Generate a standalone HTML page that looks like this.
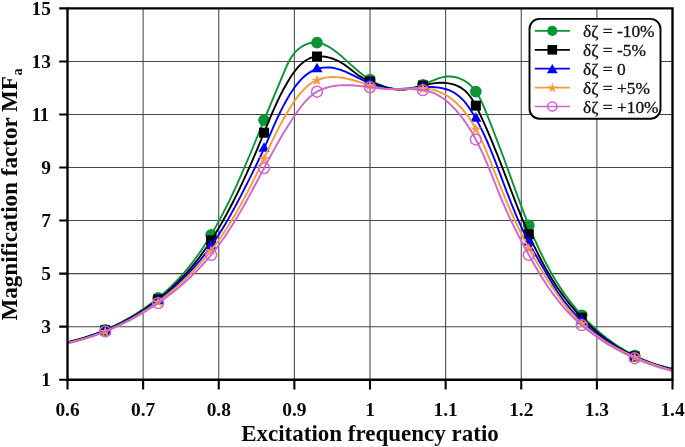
<!DOCTYPE html>
<html><head><meta charset="utf-8"><title>Magnification factor</title>
<style>html,body{margin:0;padding:0;background:#fff;}svg{display:block;}text{font-family:"Liberation Serif",serif;}.tk{font-weight:bold;font-size:19.4px;fill:#0a0a0a;}.ax{font-weight:bold;font-size:23px;fill:#0a0a0a;}.lg{font-size:17.4px;fill:#111;stroke:#111;stroke-width:0.3px;}</style></head><body>
<svg width="685" height="447" viewBox="0 0 685 447">
<rect x="0" y="0" width="685" height="447" fill="#fff"/>
<path d="M143.12 8.40 V379.70 M218.75 8.40 V379.70 M294.38 8.40 V379.70 M370.00 8.40 V379.70 M445.63 8.40 V379.70 M521.25 8.40 V379.70 M596.88 8.40 V379.70 M67.50 326.66 H672.50 M67.50 273.61 H672.50 M67.50 220.57 H672.50 M67.50 167.53 H672.50 M67.50 114.49 H672.50 M67.50 61.44 H672.50" stroke="#000" stroke-opacity="0.72" stroke-width="1.05" fill="none"/>
<clipPath id="c"><rect x="67.50" y="8.40" width="605.00" height="371.30"/></clipPath>
<path clip-path="url(#c)" d="M67.40 342.10 L71.36 341.19 L75.31 340.19 L79.24 339.13 L83.15 337.98 L87.04 336.76 L90.90 335.47 L94.74 334.10 L98.55 332.66 L102.34 331.15 L106.10 329.57 L109.83 327.92 L113.53 326.20 L117.19 324.41 L120.82 322.55 L124.42 320.62 L127.98 318.63 L131.51 316.58 L134.99 314.46 L138.43 312.27 L141.84 310.03 L145.20 307.72 L148.51 305.35 L151.78 302.92 L155.00 300.43 L158.18 297.88 L161.30 295.27 L164.37 292.61 L167.40 289.89 L170.36 287.12 L173.28 284.29 L176.13 281.40 L178.93 278.47 L181.67 275.48 L184.35 272.44 L186.97 269.35 L189.53 266.21 L192.04 263.03 L194.49 259.80 L196.89 256.53 L199.23 253.22 L201.53 249.88 L203.78 246.50 L205.99 243.09 L208.15 239.65 L210.27 236.17 L212.35 232.68 L214.39 229.16 L216.39 225.61 L218.36 222.05 L220.30 218.47 L222.20 214.87 L224.07 211.25 L225.92 207.62 L227.74 203.98 L229.53 200.33 L231.29 196.66 L233.03 192.98 L234.75 189.29 L236.45 185.59 L238.13 181.88 L239.79 178.16 L241.43 174.44 L243.05 170.71 L244.66 166.98 L246.26 163.24 L247.84 159.49 L249.42 155.75 L250.98 152.00 L252.53 148.25 L254.08 144.50 L255.62 140.76 L257.16 137.01 L258.69 133.27 L260.22 129.53 L261.76 125.79 L263.29 122.06 L264.82 118.34 L266.35 114.62 L267.89 110.90 L269.44 107.18 L270.99 103.46 L272.54 99.73 L274.10 95.99 L275.67 92.23 L277.25 88.45 L278.84 84.65 L280.44 80.83 L282.05 76.97 L283.67 73.08 L285.32 69.17 L287.04 65.29 L288.89 61.50 L290.95 57.88 L293.26 54.50 L295.90 51.41 L298.86 48.69 L302.09 46.40 L305.54 44.58 L309.14 43.29 L312.84 42.60 L316.57 42.55 L320.30 43.18 L323.99 44.42 L327.62 46.16 L331.19 48.30 L334.67 50.74 L338.05 53.37 L341.32 56.10 L344.47 58.85 L347.54 61.61 L350.55 64.35 L353.55 67.05 L356.56 69.69 L359.60 72.26 L362.73 74.73 L365.95 77.08 L369.32 79.30 L372.84 81.36 L376.52 83.25 L380.32 84.93 L384.22 86.38 L388.19 87.57 L392.20 88.49 L396.23 89.11 L400.25 89.39 L404.23 89.33 L408.18 88.94 L412.10 88.23 L415.99 87.25 L419.87 86.00 L423.73 84.52 L427.59 82.86 L431.45 81.15 L435.31 79.53 L439.19 78.13 L443.08 77.07 L446.99 76.50 L450.91 76.49 L454.79 77.01 L458.57 78.03 L462.19 79.52 L465.62 81.44 L468.78 83.75 L471.64 86.42 L474.22 89.41 L476.56 92.67 L478.69 96.16 L480.64 99.82 L482.45 103.61 L484.14 107.50 L485.75 111.42 L487.32 115.35 L488.86 119.24 L490.38 123.10 L491.88 126.93 L493.36 130.74 L494.83 134.53 L496.28 138.30 L497.72 142.05 L499.14 145.80 L500.55 149.54 L501.96 153.28 L503.35 157.02 L504.74 160.76 L506.12 164.51 L507.49 168.27 L508.87 172.05 L510.24 175.84 L511.61 179.64 L512.98 183.45 L514.36 187.27 L515.75 191.09 L517.14 194.92 L518.55 198.74 L519.96 202.58 L521.39 206.41 L522.84 210.23 L524.30 214.06 L525.78 217.88 L527.28 221.69 L528.81 225.49 L530.36 229.28 L531.94 233.07 L533.54 236.83 L535.18 240.59 L536.85 244.32 L538.55 248.04 L540.29 251.74 L542.06 255.42 L543.88 259.07 L545.74 262.70 L547.64 266.30 L549.59 269.88 L551.58 273.42 L553.62 276.94 L555.72 280.42 L557.86 283.87 L560.06 287.28 L562.32 290.65 L564.64 293.99 L567.01 297.28 L569.45 300.53 L571.94 303.74 L574.50 306.89 L577.11 310.00 L579.78 313.06 L582.51 316.07 L585.29 319.02 L588.14 321.91 L591.04 324.74 L593.99 327.51 L597.00 330.21 L600.07 332.85 L603.19 335.43 L606.37 337.93 L609.60 340.35 L612.89 342.71 L616.23 344.99 L619.62 347.18 L623.07 349.30 L626.56 351.34 L630.11 353.29 L633.72 355.15 L637.37 356.92 L641.08 358.60 L644.83 360.19 L648.64 361.68 L652.50 363.08 L656.40 364.37 L660.36 365.56 L664.36 366.65 L668.42 367.63 L672.52 368.51" stroke="#0a9436" fill="none" stroke-width="1.9" stroke-linejoin="round"/>
<circle cx="105.22" cy="329.95" r="5.85" fill="#0a9436"/>
<circle cx="158.16" cy="297.89" r="5.85" fill="#0a9436"/>
<circle cx="211.11" cy="234.77" r="5.85" fill="#0a9436"/>
<circle cx="264.06" cy="120.19" r="5.85" fill="#0a9436"/>
<circle cx="317.00" cy="42.60" r="5.85" fill="#0a9436"/>
<circle cx="369.95" cy="79.69" r="5.85" fill="#0a9436"/>
<circle cx="422.90" cy="84.86" r="5.85" fill="#0a9436"/>
<circle cx="475.84" cy="91.61" r="5.85" fill="#0a9436"/>
<circle cx="528.79" cy="225.45" r="5.85" fill="#0a9436"/>
<circle cx="581.74" cy="315.23" r="5.85" fill="#0a9436"/>
<circle cx="634.68" cy="355.63" r="5.85" fill="#0a9436"/>
<path clip-path="url(#c)" d="M67.40 342.37 L71.23 341.47 L75.05 340.50 L78.85 339.46 L82.63 338.36 L86.40 337.19 L90.15 335.95 L93.89 334.65 L97.60 333.29 L101.28 331.86 L104.95 330.37 L108.59 328.82 L112.20 327.20 L115.79 325.52 L119.35 323.78 L122.88 321.99 L126.38 320.13 L129.85 318.21 L133.28 316.24 L136.68 314.20 L140.04 312.11 L143.37 309.96 L146.66 307.76 L149.91 305.50 L153.11 303.19 L156.28 300.82 L159.40 298.40 L162.48 295.92 L165.51 293.40 L168.50 290.82 L171.44 288.19 L174.32 285.51 L177.16 282.77 L179.95 279.99 L182.68 277.16 L185.36 274.29 L187.98 271.36 L190.55 268.39 L193.06 265.37 L195.53 262.31 L197.94 259.21 L200.31 256.07 L202.63 252.90 L204.91 249.69 L207.14 246.44 L209.33 243.16 L211.49 239.86 L213.60 236.52 L215.68 233.16 L217.72 229.77 L219.74 226.36 L221.72 222.93 L223.67 219.48 L225.59 216.01 L227.48 212.52 L229.35 209.02 L231.19 205.51 L233.00 201.98 L234.80 198.43 L236.56 194.88 L238.31 191.31 L240.03 187.73 L241.73 184.15 L243.40 180.56 L245.06 176.96 L246.70 173.36 L248.32 169.75 L249.92 166.13 L251.51 162.52 L253.08 158.90 L254.63 155.29 L256.17 151.67 L257.69 148.06 L259.21 144.45 L260.70 140.84 L262.19 137.24 L263.66 133.64 L265.13 130.05 L266.59 126.47 L268.06 122.89 L269.53 119.32 L271.03 115.75 L272.55 112.19 L274.11 108.62 L275.71 105.06 L277.36 101.50 L279.07 97.94 L280.85 94.37 L282.70 90.80 L284.63 87.23 L286.66 83.66 L288.78 80.08 L291.00 76.54 L293.35 73.09 L295.84 69.79 L298.46 66.72 L301.25 63.94 L304.21 61.51 L307.35 59.50 L310.68 57.96 L314.21 56.95 L317.89 56.43 L321.67 56.38 L325.51 56.77 L329.35 57.58 L333.15 58.76 L336.85 60.29 L340.42 62.15 L343.82 64.28 L347.09 66.61 L350.27 69.06 L353.40 71.53 L356.54 73.93 L359.72 76.17 L363.00 78.18 L366.41 79.91 L369.95 81.49 L373.61 83.04 L377.36 84.54 L381.20 85.93 L385.09 87.17 L389.01 88.22 L392.95 89.01 L396.88 89.52 L400.78 89.67 L404.64 89.47 L408.46 88.95 L412.26 88.20 L416.06 87.30 L419.86 86.31 L423.68 85.32 L427.54 84.41 L431.45 83.63 L435.42 83.08 L439.43 82.80 L443.44 82.82 L447.40 83.15 L451.25 83.83 L454.96 84.87 L458.46 86.30 L461.71 88.14 L464.68 90.40 L467.38 93.04 L469.85 96.00 L472.11 99.22 L474.20 102.66 L476.15 106.24 L477.99 109.92 L479.76 113.65 L481.47 117.36 L483.14 121.05 L484.78 124.72 L486.39 128.37 L487.96 132.00 L489.51 135.63 L491.02 139.24 L492.52 142.84 L493.99 146.44 L495.45 150.03 L496.89 153.63 L498.31 157.23 L499.73 160.84 L501.14 164.45 L502.54 168.08 L503.93 171.72 L505.33 175.37 L506.72 179.03 L508.12 182.70 L509.52 186.38 L510.92 190.07 L512.33 193.75 L513.75 197.45 L515.18 201.14 L516.62 204.83 L518.07 208.53 L519.54 212.22 L521.02 215.90 L522.52 219.58 L524.05 223.25 L525.59 226.92 L527.15 230.57 L528.75 234.21 L530.36 237.84 L532.01 241.46 L533.68 245.05 L535.39 248.64 L537.13 252.20 L538.90 255.74 L540.71 259.26 L542.56 262.75 L544.45 266.22 L546.38 269.67 L548.35 273.09 L550.37 276.47 L552.43 279.83 L554.54 283.15 L556.71 286.44 L558.92 289.70 L561.18 292.92 L563.50 296.10 L565.88 299.24 L568.31 302.34 L570.79 305.39 L573.33 308.40 L575.92 311.37 L578.56 314.28 L581.26 317.15 L584.01 319.96 L586.81 322.72 L589.66 325.42 L592.56 328.07 L595.52 330.66 L598.52 333.19 L601.57 335.65 L604.67 338.05 L607.83 340.39 L611.03 342.65 L614.28 344.85 L617.57 346.98 L620.92 349.03 L624.31 351.01 L627.75 352.91 L631.23 354.74 L634.76 356.49 L638.34 358.15 L641.96 359.73 L645.63 361.22 L649.34 362.63 L653.09 363.95 L656.89 365.18 L660.74 366.32 L664.62 367.37 L668.55 368.32 L672.52 369.17" stroke="#000000" fill="none" stroke-width="1.9" stroke-linejoin="round"/>
<rect x="100.22" y="325.26" width="10.00" height="10.00" fill="#000000"/>
<rect x="153.16" y="294.37" width="10.00" height="10.00" fill="#000000"/>
<rect x="206.11" y="235.44" width="10.00" height="10.00" fill="#000000"/>
<rect x="259.06" y="127.68" width="10.00" height="10.00" fill="#000000"/>
<rect x="312.00" y="51.51" width="10.00" height="10.00" fill="#000000"/>
<rect x="364.95" y="76.49" width="10.00" height="10.00" fill="#000000"/>
<rect x="417.90" y="80.53" width="10.00" height="10.00" fill="#000000"/>
<rect x="470.84" y="100.65" width="10.00" height="10.00" fill="#000000"/>
<rect x="523.79" y="229.31" width="10.00" height="10.00" fill="#000000"/>
<rect x="576.74" y="312.64" width="10.00" height="10.00" fill="#000000"/>
<rect x="629.68" y="351.45" width="10.00" height="10.00" fill="#000000"/>
<path clip-path="url(#c)" d="M67.39 342.63 L71.19 341.77 L74.97 340.85 L78.73 339.87 L82.47 338.82 L86.18 337.70 L89.87 336.52 L93.53 335.28 L97.17 333.98 L100.78 332.62 L104.37 331.19 L107.93 329.71 L111.46 328.17 L114.96 326.57 L118.44 324.91 L121.89 323.19 L125.30 321.42 L128.69 319.60 L132.04 317.71 L135.37 315.78 L138.66 313.79 L141.92 311.75 L145.15 309.66 L148.34 307.51 L151.50 305.32 L154.62 303.08 L157.71 300.79 L160.76 298.45 L163.78 296.06 L166.76 293.63 L169.70 291.15 L172.60 288.62 L175.46 286.05 L178.29 283.44 L181.07 280.79 L183.82 278.09 L186.52 275.35 L189.18 272.57 L191.80 269.75 L194.38 266.89 L196.92 263.99 L199.41 261.06 L201.85 258.09 L204.25 255.08 L206.61 252.03 L208.92 248.95 L211.18 245.84 L213.40 242.69 L215.57 239.51 L217.69 236.30 L219.78 233.07 L221.83 229.80 L223.84 226.51 L225.82 223.20 L227.76 219.87 L229.68 216.52 L231.56 213.14 L233.43 209.76 L235.27 206.35 L237.09 202.94 L238.89 199.51 L240.68 196.07 L242.45 192.63 L244.21 189.18 L245.96 185.72 L247.71 182.27 L249.45 178.81 L251.18 175.35 L252.90 171.89 L254.61 168.42 L256.30 164.96 L257.98 161.49 L259.64 158.02 L261.27 154.55 L262.87 151.07 L264.45 147.59 L265.99 144.10 L267.51 140.61 L269.02 137.12 L270.52 133.64 L272.02 130.15 L273.54 126.66 L275.08 123.18 L276.64 119.70 L278.25 116.23 L279.90 112.77 L281.61 109.32 L283.38 105.87 L285.22 102.44 L287.15 99.03 L289.17 95.62 L291.29 92.24 L293.52 88.91 L295.86 85.67 L298.34 82.57 L300.95 79.65 L303.71 76.95 L306.62 74.52 L309.71 72.40 L312.96 70.64 L316.37 69.24 L319.90 68.23 L323.51 67.60 L327.17 67.38 L330.84 67.55 L334.51 68.13 L338.17 69.05 L341.81 70.27 L345.44 71.72 L349.06 73.34 L352.67 75.08 L356.26 76.88 L359.85 78.69 L363.42 80.44 L366.99 82.09 L370.55 83.62 L374.13 84.99 L377.72 86.19 L381.34 87.19 L384.99 87.98 L388.68 88.52 L392.43 88.81 L396.21 88.91 L400.04 88.83 L403.89 88.63 L407.78 88.35 L411.68 88.02 L415.60 87.68 L419.53 87.38 L423.47 87.15 L427.40 87.03 L431.31 87.05 L435.17 87.26 L438.96 87.66 L442.66 88.31 L446.23 89.23 L449.67 90.45 L452.94 92.00 L456.03 93.91 L458.94 96.15 L461.69 98.68 L464.28 101.46 L466.73 104.45 L469.05 107.61 L471.25 110.90 L473.35 114.28 L475.35 117.71 L477.27 121.15 L479.12 124.60 L480.89 128.06 L482.60 131.53 L484.25 135.01 L485.85 138.50 L487.40 142.00 L488.90 145.51 L490.37 149.03 L491.81 152.56 L493.21 156.10 L494.60 159.65 L495.97 163.21 L497.33 166.78 L498.69 170.36 L500.04 173.95 L501.40 177.55 L502.75 181.15 L504.11 184.76 L505.48 188.37 L506.86 191.98 L508.25 195.58 L509.65 199.19 L511.07 202.78 L512.50 206.38 L513.96 209.96 L515.44 213.53 L516.94 217.09 L518.47 220.64 L520.03 224.17 L521.62 227.69 L523.24 231.18 L524.90 234.66 L526.60 238.11 L528.34 241.54 L530.12 244.94 L531.94 248.32 L533.80 251.68 L535.68 255.02 L537.59 258.35 L539.52 261.67 L541.47 264.98 L543.42 268.30 L545.37 271.62 L547.32 274.95 L549.27 278.28 L551.24 281.61 L553.22 284.93 L555.24 288.22 L557.32 291.47 L559.46 294.67 L561.67 297.82 L563.96 300.91 L566.32 303.95 L568.75 306.93 L571.24 309.85 L573.80 312.71 L576.42 315.51 L579.11 318.26 L581.86 320.95 L584.66 323.57 L587.52 326.14 L590.44 328.64 L593.41 331.09 L596.43 333.47 L599.51 335.80 L602.63 338.06 L605.80 340.26 L609.01 342.39 L612.26 344.47 L615.56 346.48 L618.90 348.42 L622.27 350.30 L625.68 352.12 L629.12 353.88 L632.60 355.56 L636.11 357.19 L639.65 358.74 L643.21 360.23 L646.80 361.65 L650.41 363.01 L654.05 364.30 L657.71 365.52 L661.38 366.67 L665.07 367.76 L668.78 368.77 L672.50 369.72" stroke="#0000ff" fill="none" stroke-width="1.9" stroke-linejoin="round"/>
<path d="M105.22 324.54 L110.87 334.14 L99.57 334.14 Z" fill="#0000ff"/>
<path d="M158.16 294.14 L163.81 303.74 L152.51 303.74 Z" fill="#0000ff"/>
<path d="M211.11 239.63 L216.76 249.23 L205.46 249.23 Z" fill="#0000ff"/>
<path d="M264.06 142.15 L269.71 151.75 L258.41 151.75 Z" fill="#0000ff"/>
<path d="M317.00 62.74 L322.65 72.34 L311.35 72.34 Z" fill="#0000ff"/>
<path d="M369.95 77.07 L375.60 86.67 L364.30 86.67 Z" fill="#0000ff"/>
<path d="M422.90 80.88 L428.55 90.48 L417.25 90.48 Z" fill="#0000ff"/>
<path d="M475.84 112.27 L481.49 121.87 L470.19 121.87 Z" fill="#0000ff"/>
<path d="M528.79 236.11 L534.44 245.71 L523.14 245.71 Z" fill="#0000ff"/>
<path d="M581.74 314.53 L587.38 324.13 L576.09 324.13 Z" fill="#0000ff"/>
<path d="M634.68 350.23 L640.33 359.83 L629.03 359.83 Z" fill="#0000ff"/>
<path clip-path="url(#c)" d="M67.38 343.03 L71.12 342.18 L74.84 341.26 L78.53 340.29 L82.20 339.26 L85.85 338.17 L89.48 337.03 L93.09 335.82 L96.67 334.56 L100.23 333.25 L103.76 331.88 L107.27 330.45 L110.75 328.97 L114.21 327.44 L117.64 325.85 L121.05 324.21 L124.43 322.52 L127.78 320.77 L131.10 318.98 L134.39 317.14 L137.66 315.25 L140.89 313.30 L144.10 311.31 L147.27 309.28 L150.42 307.19 L153.53 305.06 L156.61 302.89 L159.66 300.67 L162.68 298.40 L165.66 296.09 L168.61 293.74 L171.53 291.34 L174.41 288.91 L177.25 286.43 L180.06 283.91 L182.84 281.35 L185.58 278.75 L188.28 276.11 L190.94 273.43 L193.57 270.71 L196.15 267.96 L198.70 265.17 L201.21 262.35 L203.68 259.49 L206.11 256.59 L208.50 253.66 L210.85 250.70 L213.16 247.70 L215.43 244.68 L217.65 241.62 L219.84 238.53 L221.99 235.41 L224.10 232.27 L226.18 229.10 L228.23 225.91 L230.24 222.69 L232.22 219.45 L234.17 216.20 L236.09 212.92 L237.98 209.62 L239.85 206.31 L241.69 202.99 L243.50 199.65 L245.29 196.29 L247.06 192.93 L248.81 189.55 L250.53 186.17 L252.24 182.78 L253.93 179.38 L255.60 175.98 L257.26 172.57 L258.90 169.17 L260.53 165.76 L262.15 162.35 L263.76 158.94 L265.35 155.53 L266.94 152.13 L268.53 148.73 L270.13 145.34 L271.73 141.96 L273.35 138.58 L275.00 135.21 L276.66 131.85 L278.36 128.50 L280.10 125.16 L281.87 121.83 L283.70 118.51 L285.58 115.21 L287.51 111.92 L289.51 108.65 L291.57 105.39 L293.71 102.16 L295.94 98.96 L298.25 95.85 L300.68 92.85 L303.23 90.02 L305.90 87.38 L308.72 84.97 L311.70 82.84 L314.84 81.01 L318.16 79.53 L321.65 78.41 L325.27 77.64 L329.00 77.18 L332.79 77.01 L336.60 77.12 L340.39 77.47 L344.15 78.05 L347.87 78.82 L351.56 79.74 L355.23 80.77 L358.88 81.88 L362.51 83.03 L366.14 84.18 L369.77 85.31 L373.40 86.36 L377.05 87.31 L380.72 88.11 L384.41 88.74 L388.14 89.15 L391.90 89.33 L395.69 89.32 L399.50 89.18 L403.32 88.96 L407.15 88.69 L410.98 88.44 L414.80 88.26 L418.60 88.19 L422.39 88.29 L426.14 88.60 L429.84 89.14 L433.48 89.93 L437.05 90.98 L440.52 92.29 L443.89 93.88 L447.13 95.76 L450.23 97.90 L453.20 100.23 L456.03 102.70 L458.72 105.28 L461.28 107.98 L463.72 110.79 L466.05 113.69 L468.27 116.68 L470.38 119.76 L472.41 122.92 L474.34 126.15 L476.19 129.45 L477.97 132.81 L479.68 136.21 L481.32 139.67 L482.92 143.16 L484.46 146.68 L485.96 150.23 L487.43 153.79 L488.88 157.37 L490.30 160.95 L491.70 164.53 L493.10 168.10 L494.50 171.66 L495.89 175.20 L497.29 178.73 L498.69 182.25 L500.10 185.75 L501.52 189.24 L502.94 192.72 L504.37 196.19 L505.81 199.64 L507.27 203.09 L508.74 206.52 L510.23 209.94 L511.73 213.35 L513.26 216.76 L514.80 220.15 L516.37 223.54 L517.97 226.91 L519.58 230.28 L521.23 233.64 L522.91 237.00 L524.61 240.35 L526.35 243.69 L528.12 247.02 L529.93 250.35 L531.77 253.68 L533.65 256.99 L535.55 260.30 L537.49 263.60 L539.45 266.88 L541.44 270.15 L543.46 273.41 L545.49 276.65 L547.54 279.87 L549.62 283.07 L551.70 286.25 L553.80 289.41 L555.92 292.55 L558.04 295.66 L560.18 298.74 L562.37 301.78 L564.60 304.77 L566.91 307.70 L569.29 310.58 L571.76 313.39 L574.31 316.13 L576.92 318.81 L579.61 321.44 L582.37 323.99 L585.19 326.49 L588.08 328.93 L591.03 331.30 L594.03 333.61 L597.09 335.86 L600.20 338.06 L603.36 340.19 L606.57 342.26 L609.81 344.26 L613.10 346.21 L616.43 348.10 L619.79 349.93 L623.18 351.70 L626.61 353.42 L630.06 355.07 L633.53 356.66 L637.02 358.20 L640.53 359.68 L644.06 361.10 L647.60 362.46 L651.15 363.76 L654.71 365.01 L658.27 366.20 L661.83 367.33 L665.39 368.40 L668.94 369.42 L672.49 370.39" stroke="#ff9838" fill="none" stroke-width="1.9" stroke-linejoin="round"/>
<path d="M105.22 325.99 L106.54 329.97 L110.73 330.00 L107.36 332.49 L108.63 336.48 L105.22 334.04 L101.81 336.48 L103.08 332.49 L99.70 330.00 L103.90 329.97 Z" fill="#ff9838"/>
<path d="M158.16 296.46 L159.49 300.44 L163.68 300.47 L160.30 302.96 L161.57 306.96 L158.16 304.51 L154.76 306.96 L156.03 302.96 L152.65 300.47 L156.84 300.44 Z" fill="#ff9838"/>
<path d="M211.11 245.07 L212.43 249.05 L216.63 249.07 L213.25 251.56 L214.52 255.56 L211.11 253.12 L207.70 255.56 L208.97 251.56 L205.60 249.07 L209.79 249.05 Z" fill="#ff9838"/>
<path d="M264.06 153.00 L265.38 156.97 L269.57 157.00 L266.20 159.49 L267.47 163.49 L264.06 161.05 L260.65 163.49 L261.92 159.49 L258.54 157.00 L262.73 156.97 Z" fill="#ff9838"/>
<path d="M317.00 74.70 L318.33 78.68 L322.52 78.70 L319.14 81.19 L320.41 85.19 L317.00 82.75 L313.59 85.19 L314.86 81.19 L311.49 78.70 L315.68 78.68 Z" fill="#ff9838"/>
<path d="M369.95 80.06 L371.27 84.04 L375.47 84.07 L372.09 86.56 L373.36 90.55 L369.95 88.11 L366.54 90.55 L367.81 86.56 L364.43 84.07 L368.63 84.04 Z" fill="#ff9838"/>
<path d="M422.90 83.02 L424.22 87.00 L428.41 87.03 L425.04 89.52 L426.31 93.51 L422.90 91.07 L419.49 93.51 L420.76 89.52 L417.38 87.03 L421.57 87.00 Z" fill="#ff9838"/>
<path d="M475.84 123.52 L477.17 127.50 L481.36 127.53 L477.98 130.01 L479.25 134.01 L475.84 131.57 L472.43 134.01 L473.70 130.01 L470.33 127.53 L474.52 127.50 Z" fill="#ff9838"/>
<path d="M528.79 242.96 L530.11 246.94 L534.30 246.97 L530.93 249.46 L532.20 253.45 L528.79 251.01 L525.38 253.45 L526.65 249.46 L523.27 246.97 L527.47 246.94 Z" fill="#ff9838"/>
<path d="M581.74 318.11 L583.06 322.09 L587.25 322.12 L583.87 324.61 L585.14 328.61 L581.74 326.16 L578.33 328.61 L579.60 324.61 L576.22 322.12 L580.41 322.09 Z" fill="#ff9838"/>
<path d="M634.68 351.88 L636.00 355.86 L640.20 355.88 L636.82 358.37 L638.09 362.37 L634.68 359.93 L631.27 362.37 L632.54 358.37 L629.17 355.88 L633.36 355.86 Z" fill="#ff9838"/>
<path clip-path="url(#c)" d="M67.41 343.43 L70.99 342.56 L74.57 341.64 L78.13 340.67 L81.69 339.64 L85.24 338.56 L88.78 337.43 L92.30 336.25 L95.81 335.02 L99.31 333.74 L102.79 332.41 L106.26 331.03 L109.71 329.60 L113.14 328.12 L116.56 326.60 L119.95 325.03 L123.33 323.41 L126.68 321.74 L130.02 320.03 L133.33 318.27 L136.62 316.47 L139.88 314.62 L143.12 312.72 L146.33 310.79 L149.52 308.80 L152.68 306.78 L155.81 304.71 L158.91 302.60 L161.98 300.45 L165.01 298.25 L168.02 296.02 L170.99 293.74 L173.93 291.42 L176.84 289.06 L179.71 286.67 L182.54 284.23 L185.33 281.76 L188.09 279.24 L190.81 276.69 L193.49 274.10 L196.12 271.47 L198.72 268.81 L201.27 266.11 L203.78 263.37 L206.24 260.60 L208.66 257.79 L211.04 254.95 L213.36 252.07 L215.64 249.16 L217.88 246.22 L220.07 243.25 L222.23 240.25 L224.34 237.22 L226.42 234.16 L228.46 231.08 L230.48 227.97 L232.46 224.84 L234.41 221.69 L236.34 218.52 L238.24 215.33 L240.12 212.12 L241.97 208.90 L243.81 205.66 L245.64 202.41 L247.44 199.15 L249.24 195.87 L251.02 192.59 L252.79 189.29 L254.56 185.99 L256.32 182.69 L258.08 179.38 L259.83 176.07 L261.59 172.75 L263.35 169.44 L265.11 166.13 L266.88 162.81 L268.66 159.51 L270.45 156.21 L272.25 152.91 L274.06 149.62 L275.89 146.34 L277.74 143.07 L279.61 139.82 L281.50 136.57 L283.42 133.34 L285.36 130.13 L287.32 126.93 L289.32 123.75 L291.35 120.59 L293.41 117.45 L295.51 114.34 L297.65 111.25 L299.84 108.22 L302.10 105.27 L304.46 102.43 L306.93 99.74 L309.52 97.22 L312.25 94.91 L315.15 92.84 L318.23 91.03 L321.48 89.50 L324.89 88.22 L328.42 87.19 L332.07 86.38 L335.79 85.79 L339.57 85.40 L343.39 85.18 L347.22 85.14 L351.03 85.25 L354.81 85.49 L358.55 85.83 L362.28 86.26 L365.98 86.73 L369.67 87.22 L373.36 87.70 L377.04 88.13 L380.73 88.50 L384.44 88.77 L388.15 88.94 L391.89 89.04 L395.63 89.09 L399.38 89.10 L403.15 89.09 L406.91 89.10 L410.67 89.15 L414.40 89.29 L418.09 89.55 L421.72 89.97 L425.30 90.57 L428.79 91.40 L432.20 92.49 L435.50 93.88 L438.69 95.54 L441.78 97.45 L444.77 99.60 L447.66 101.94 L450.44 104.45 L453.12 107.11 L455.70 109.89 L458.18 112.76 L460.56 115.70 L462.84 118.68 L465.04 121.72 L467.14 124.80 L469.17 127.93 L471.12 131.10 L473.00 134.31 L474.81 137.55 L476.56 140.82 L478.25 144.13 L479.89 147.47 L481.48 150.83 L483.03 154.21 L484.54 157.61 L486.01 161.03 L487.46 164.47 L488.88 167.92 L490.29 171.38 L491.68 174.85 L493.06 178.32 L494.44 181.79 L495.82 185.26 L497.20 188.73 L498.59 192.20 L500.00 195.65 L501.43 199.10 L502.88 202.53 L504.36 205.94 L505.86 209.34 L507.39 212.73 L508.95 216.11 L510.53 219.47 L512.13 222.82 L513.76 226.16 L515.41 229.49 L517.08 232.81 L518.77 236.12 L520.48 239.42 L522.21 242.71 L523.97 246.00 L525.73 249.28 L527.52 252.55 L529.32 255.82 L531.14 259.08 L532.98 262.34 L534.84 265.58 L536.72 268.82 L538.63 272.03 L540.57 275.23 L542.54 278.40 L544.55 281.55 L546.59 284.67 L548.67 287.76 L550.80 290.82 L552.97 293.84 L555.19 296.82 L557.45 299.76 L559.78 302.66 L562.15 305.50 L564.59 308.30 L567.08 311.04 L569.63 313.73 L572.24 316.37 L574.90 318.96 L577.61 321.49 L580.38 323.97 L583.19 326.40 L586.06 328.77 L588.97 331.09 L591.92 333.35 L594.92 335.56 L597.96 337.72 L601.05 339.82 L604.17 341.87 L607.33 343.86 L610.52 345.80 L613.75 347.68 L617.01 349.50 L620.31 351.28 L623.63 352.99 L626.99 354.65 L630.37 356.25 L633.77 357.80 L637.20 359.29 L640.66 360.72 L644.13 362.10 L647.62 363.42 L651.14 364.68 L654.66 365.89 L658.21 367.04 L661.76 368.13 L665.33 369.16 L668.91 370.13 L672.50 371.05" stroke="#cc66cc" fill="none" stroke-width="1.9" stroke-linejoin="round"/>
<circle cx="105.22" cy="331.45" r="5.45" fill="none" stroke="#cc66cc" stroke-width="1.5"/>
<circle cx="158.16" cy="303.11" r="5.45" fill="none" stroke="#cc66cc" stroke-width="1.5"/>
<circle cx="211.11" cy="254.86" r="5.45" fill="none" stroke="#cc66cc" stroke-width="1.5"/>
<circle cx="264.06" cy="168.11" r="5.45" fill="none" stroke="#cc66cc" stroke-width="1.5"/>
<circle cx="317.00" cy="91.71" r="5.45" fill="none" stroke="#cc66cc" stroke-width="1.5"/>
<circle cx="369.95" cy="87.25" r="5.45" fill="none" stroke="#cc66cc" stroke-width="1.5"/>
<circle cx="422.90" cy="90.14" r="5.45" fill="none" stroke="#cc66cc" stroke-width="1.5"/>
<circle cx="475.84" cy="139.47" r="5.45" fill="none" stroke="#cc66cc" stroke-width="1.5"/>
<circle cx="528.79" cy="254.86" r="5.45" fill="none" stroke="#cc66cc" stroke-width="1.5"/>
<circle cx="581.74" cy="325.15" r="5.45" fill="none" stroke="#cc66cc" stroke-width="1.5"/>
<circle cx="634.68" cy="358.20" r="5.45" fill="none" stroke="#cc66cc" stroke-width="1.5"/>
<path d="M67.50 8.40 H672.50 V379.70 H67.50 Z" stroke="#000" stroke-width="2.35" fill="none"/>
<path d="M67.50 379.70 V389.40 M143.12 379.70 V389.40 M218.75 379.70 V389.40 M294.38 379.70 V389.40 M370.00 379.70 V389.40 M445.63 379.70 V389.40 M521.25 379.70 V389.40 M596.88 379.70 V389.40 M672.50 379.70 V389.40 M59.20 379.70 H67.50 M59.20 326.66 H67.50 M59.20 273.61 H67.50 M59.20 220.57 H67.50 M59.20 167.53 H67.50 M59.20 114.49 H67.50 M59.20 61.44 H67.50 M59.20 8.40 H67.50" stroke="#000" stroke-width="2.1" fill="none" stroke-linecap="butt"/>
<defs><filter id="ga" x="-5%" y="-5%" width="110%" height="110%"><feOffset dx="0" dy="0"/></filter></defs><g filter="url(#ga)">
<text class="tk" x="67.50" y="415.8" text-anchor="middle">0.6</text>
<text class="tk" x="143.12" y="415.8" text-anchor="middle">0.7</text>
<text class="tk" x="218.75" y="415.8" text-anchor="middle">0.8</text>
<text class="tk" x="294.38" y="415.8" text-anchor="middle">0.9</text>
<text class="tk" x="370.00" y="415.8" text-anchor="middle">1</text>
<text class="tk" x="445.63" y="415.8" text-anchor="middle">1.1</text>
<text class="tk" x="521.25" y="415.8" text-anchor="middle">1.2</text>
<text class="tk" x="596.88" y="415.8" text-anchor="middle">1.3</text>
<text class="tk" x="672.50" y="415.8" text-anchor="middle">1.4</text>
<text class="tk" x="51" y="386.20" text-anchor="end">1</text>
<text class="tk" x="51" y="333.16" text-anchor="end">3</text>
<text class="tk" x="51" y="280.11" text-anchor="end">5</text>
<text class="tk" x="51" y="227.07" text-anchor="end">7</text>
<text class="tk" x="51" y="174.03" text-anchor="end">9</text>
<text class="tk" x="49.1" y="120.99" text-anchor="end">1<tspan dx="-0.7">1</tspan></text>
<text class="tk" x="51" y="67.94" text-anchor="end">13</text>
<text class="tk" x="51" y="14.90" text-anchor="end">15</text>
<text class="ax" x="370.0" y="441" text-anchor="middle">Excitation frequency ratio</text>
<text class="ax" style="font-size:23.1px" transform="translate(16.6,320.6) rotate(-90)" x="0" y="0">Magnification factor MF<tspan style="font-size:14.5px" dx="0.6" dy="5">a</tspan></text>
<rect x="529.5" y="18.9" width="131.0" height="99.8" rx="10" ry="10" fill="#fff" stroke="#000" stroke-width="1.9"/>
<path d="M534.8 30.90 H569.9" stroke="#0a9436" stroke-width="1.7"/>
<circle cx="552.30" cy="30.90" r="5.09" fill="#0a9436"/>
<text class="lg" x="583" y="36.90">δζ = -10%</text>
<path d="M534.8 49.80 H569.9" stroke="#000000" stroke-width="1.7"/>
<rect x="547.50" y="45.00" width="9.60" height="9.60" fill="#000000"/>
<text class="lg" x="583" y="55.80">δζ = -5%</text>
<path d="M534.8 68.70 H569.9" stroke="#0000ff" stroke-width="1.7"/>
<path d="M552.3 64.10 L557.65 73.30 L546.95 73.30 Z" fill="#0000ff"/>
<text class="lg" x="583" y="74.70">δζ = 0</text>
<path d="M534.8 87.60 H569.9" stroke="#ff9838" stroke-width="1.7"/>
<path d="M552.30 82.83 L553.49 86.41 L557.26 86.44 L554.23 88.68 L555.37 92.27 L552.30 90.08 L549.23 92.27 L550.37 88.68 L547.34 86.44 L551.11 86.41 Z" fill="#ff9838"/>
<text class="lg" x="583" y="93.60">δζ = +5%</text>
<path d="M534.8 106.50 H569.9" stroke="#cc66cc" stroke-width="1.7"/>
<circle cx="552.30" cy="106.50" r="4.58" fill="none" stroke="#cc66cc" stroke-width="1.5"/>
<text class="lg" x="583" y="112.50">δζ = +10%</text>
</g>
</svg></body></html>
